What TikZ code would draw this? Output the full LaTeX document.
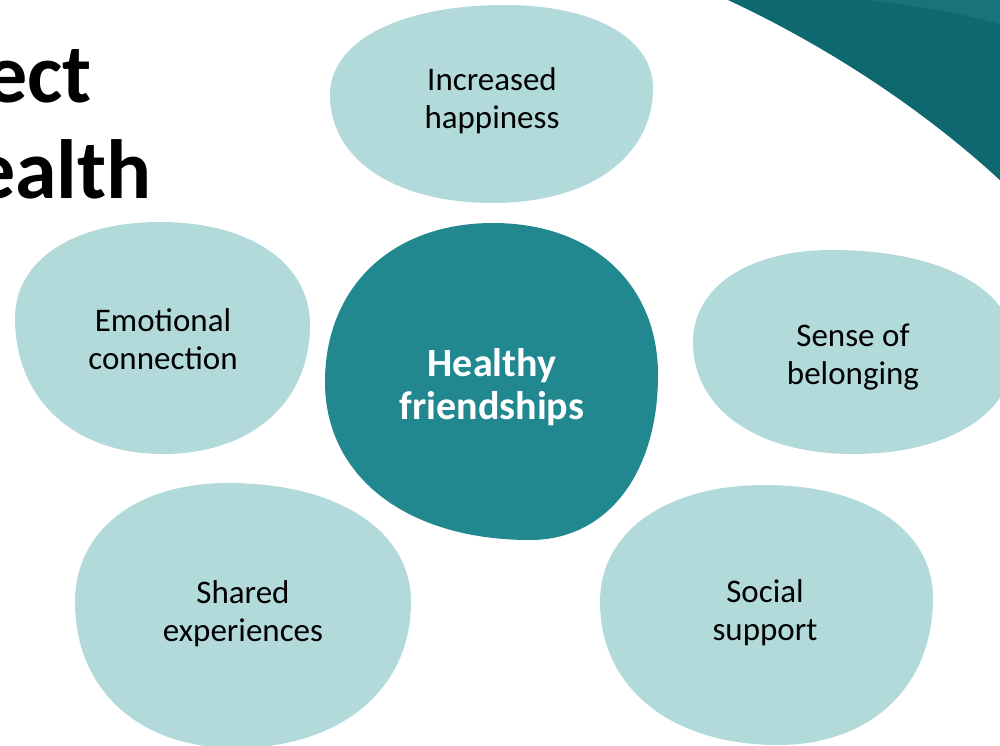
\documentclass[tikz,border=0pt]{standalone}
\usepackage{fontspec}
\setmainfont{Carlito}
\usepackage{xcolor}
\definecolor{lightteal}{HTML}{B3DADA}
\definecolor{midteal}{HTML}{218890}
\definecolor{darkteal}{HTML}{0F6770}
\definecolor{bandteal}{HTML}{1A737A}

% blob through top, right, bottom and left points
\newcommand\blobshape[9]{%
  \fill[#1] (#2,#3) .. controls ({#2+0.6*(#4-#2)},#3) and (#4,{#5-0.6*(#5-#3)}) .. (#4,#5)
    .. controls (#4,{#5+0.6*(#7-#5)}) and ({#6+0.6*(#4-#6)},#7) .. (#6,#7)
    .. controls ({#6-0.6*(#6-#8)},#7) and (#8,{#9+0.6*(#7-#9)}) .. (#8,#9)
    .. controls (#8,{#9-0.6*(#9-#3)}) and ({#2-0.6*(#2-#8)},#3) .. cycle;}

\begin{document}
\begin{tikzpicture}[x=0.75pt, y=-0.75pt,
  blob/.style = {fill=lightteal},
  main/.style = {align=center, inner sep=0pt, text=black, font=\fontsize{24.75}{28.5}\selectfont},
  hub/.style = {align=center, inner sep=0pt, text=white, font=\bfseries\fontsize{30}{32.25}\selectfont},
  title/.style = {anchor=base east, inner sep=0pt, font=\bfseries\fontsize{63}{70}\selectfont}]
\useasboundingbox (0,0) rectangle (1000,746);
\clip (0,0) rectangle (1000,746);

% corner swoosh
\fill[darkteal] (728,0) .. controls (835,50) and (930,115) .. (1003,183) -- (1003,0) -- cycle;
\fill[bandteal] (867,0) .. controls (920,6) and (965,14) .. (1003,25) -- (1003,0) -- cycle;

% title, cut at the left edge
\node[title] (t1) at (92,102) {ect};
\node[title] (t2) at (152,198) {ealth};

% blobs
\blobshape{blob}{505}{5}{653}{88}{493}{203}{330}{95}
\blobshape{blob}{160}{222}{310}{325}{163}{454}{15}{318}
\blobshape{blob}{832}{250}{1015}{350}{853}{454}{693}{342}
\blobshape{blob}{228}{483}{411}{602}{235}{748}{75}{602}
\blobshape{blob}{765}{485}{933}{598}{778}{745}{600}{602}
\blobshape{midteal}{493}{223}{658}{375}{530}{540}{325}{382}

% labels
\node[hub] (hub) at (492,387) {Healthy\\friendships};
\node[main] (happy) at (492,101) {Increased\\happiness};
\node[main] (emo) at (163,339) {Emotional\\connection};
\node[main] (belong) at (853,357) {Sense of\\belonging};
\node[main] (shared) at (243,614) {Shared\\experiences};
\node[main] (social) at (765,613) {Social\\support};
\end{tikzpicture}
\end{document}
